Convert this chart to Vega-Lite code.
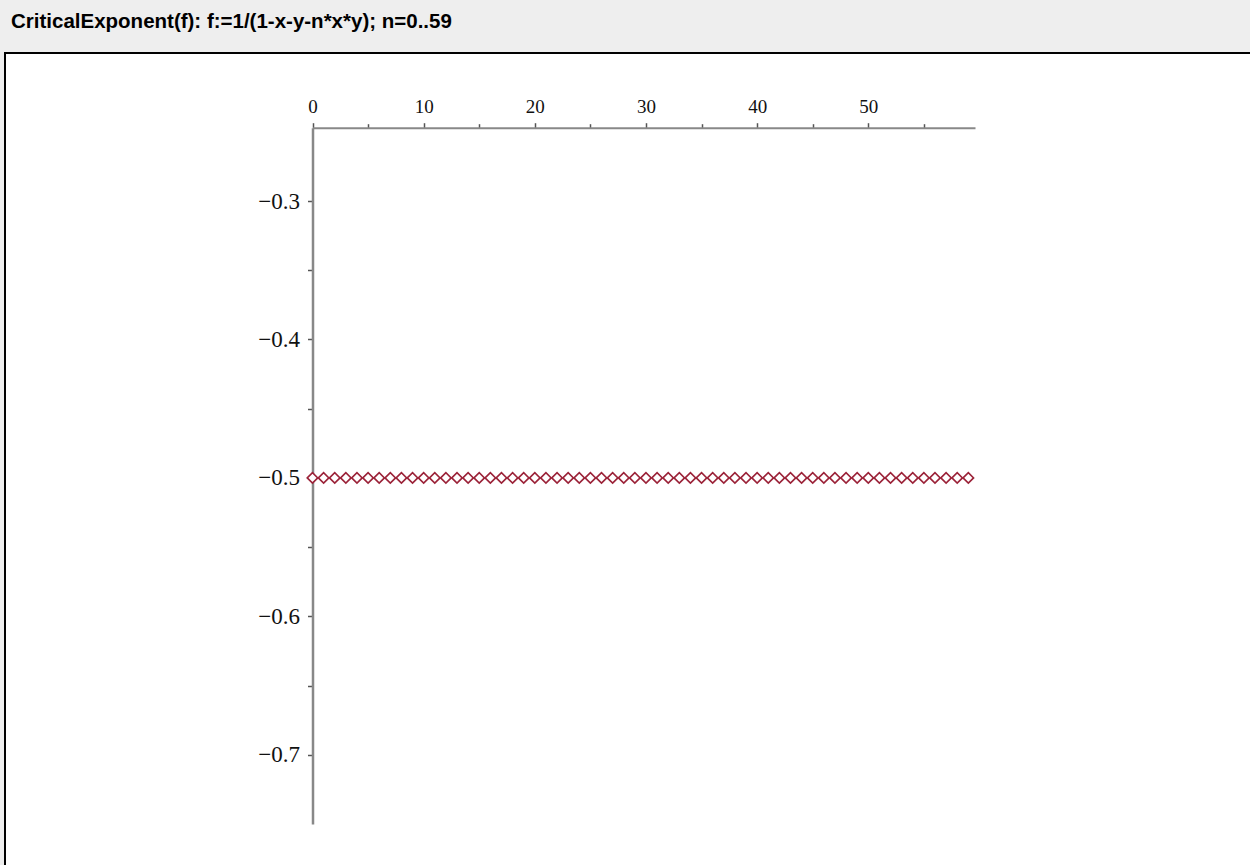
{
  "$schema": "https://vega.github.io/schema/vega-lite/v6.json",
  "autosize": "none",
  "width": 1245,
  "height": 812,
  "padding": {"left": 5, "top": 53, "right": 0, "bottom": 0},
  "background": "#eeeeee",
  "title": {
    "text": "CriticalExponent(f): f:=1/(1-x-y-n*x*y); n=0..59",
    "anchor": "start",
    "frame": "group",
    "orient": "top",
    "font": "Liberation Sans",
    "fontWeight": "bold",
    "fontSize": 20.5,
    "color": "#000000",
    "baseline": "alphabetic",
    "offset": 5,
    "dx": 6
  },
  "config": {
    "view": {"fill": "#ffffff", "stroke": "#000000", "strokeWidth": 2, "strokeDash": [1245, 2057, 812, 1]},
    "axis": {"grid": false}
  },
  "data": {
    "values": [
      {"n": 0, "e": -0.5}, {"n": 1, "e": -0.5}, {"n": 2, "e": -0.5}, {"n": 3, "e": -0.5}, {"n": 4, "e": -0.5},
      {"n": 5, "e": -0.5}, {"n": 6, "e": -0.5}, {"n": 7, "e": -0.5}, {"n": 8, "e": -0.5}, {"n": 9, "e": -0.5},
      {"n": 10, "e": -0.5}, {"n": 11, "e": -0.5}, {"n": 12, "e": -0.5}, {"n": 13, "e": -0.5}, {"n": 14, "e": -0.5},
      {"n": 15, "e": -0.5}, {"n": 16, "e": -0.5}, {"n": 17, "e": -0.5}, {"n": 18, "e": -0.5}, {"n": 19, "e": -0.5},
      {"n": 20, "e": -0.5}, {"n": 21, "e": -0.5}, {"n": 22, "e": -0.5}, {"n": 23, "e": -0.5}, {"n": 24, "e": -0.5},
      {"n": 25, "e": -0.5}, {"n": 26, "e": -0.5}, {"n": 27, "e": -0.5}, {"n": 28, "e": -0.5}, {"n": 29, "e": -0.5},
      {"n": 30, "e": -0.5}, {"n": 31, "e": -0.5}, {"n": 32, "e": -0.5}, {"n": 33, "e": -0.5}, {"n": 34, "e": -0.5},
      {"n": 35, "e": -0.5}, {"n": 36, "e": -0.5}, {"n": 37, "e": -0.5}, {"n": 38, "e": -0.5}, {"n": 39, "e": -0.5},
      {"n": 40, "e": -0.5}, {"n": 41, "e": -0.5}, {"n": 42, "e": -0.5}, {"n": 43, "e": -0.5}, {"n": 44, "e": -0.5},
      {"n": 45, "e": -0.5}, {"n": 46, "e": -0.5}, {"n": 47, "e": -0.5}, {"n": 48, "e": -0.5}, {"n": 49, "e": -0.5},
      {"n": 50, "e": -0.5}, {"n": 51, "e": -0.5}, {"n": 52, "e": -0.5}, {"n": 53, "e": -0.5}, {"n": 54, "e": -0.5},
      {"n": 55, "e": -0.5}, {"n": 56, "e": -0.5}, {"n": 57, "e": -0.5}, {"n": 58, "e": -0.5}, {"n": 59, "e": -0.5}
    ]
  },
  "mark": {"type": "point", "shape": "diamond", "size": 110, "filled": false, "stroke": "#9b2238", "strokeWidth": 1.6, "fill": "#ffffff", "fillOpacity": 1, "opacity": 1, "clip": false},
  "encoding": {
    "x": {
      "field": "n",
      "type": "quantitative",
      "scale": {"domain": [0, 59.6], "range": [307.5, 970], "nice": false, "zero": false},
      "axis": {
        "orient": "top",
        "offset": -74.7,
        "title": null,
        "values": [0, 5, 10, 15, 20, 25, 30, 35, 40, 45, 50, 55],
        "labelExpr": "datum.value % 10 === 0 ? datum.label : ''",
        "format": "d",
        "labelFont": "Liberation Serif",
        "labelFontSize": 19,
        "labelColor": "#111111",
        "labelPadding": 6,
        "tickSize": {"condition": {"test": "datum.value % 10 === 0", "value": 5}, "value": 4},
        "tickColor": "#555555",
        "tickWidth": 1.5,
        "domainColor": "#888888",
        "domainWidth": 2,
        "labelFlush": false,
        "labelOverlap": false
      }
    },
    "y": {
      "field": "e",
      "type": "quantitative",
      "scale": {"domain": [-0.75, -0.247], "range": [771, 74.7], "nice": false, "zero": false},
      "axis": {
        "orient": "left",
        "offset": -307.5,
        "title": null,
        "values": [-0.7, -0.65, -0.6, -0.55, -0.5, -0.45, -0.4, -0.35, -0.3],
        "format": ".1f",
        "labelExpr": "round(datum.value * 100) % 10 === 0 ? datum.label : ''",
        "labelFont": "Liberation Serif",
        "labelFontSize": 23,
        "labelColor": "#111111",
        "labelPadding": 8,
        "tickSize": 5,
        "tickColor": "#555555",
        "tickWidth": 1.5,
        "domainColor": "#888888",
        "domainWidth": 2.5,
        "labelFlush": false,
        "labelOverlap": false
      }
    }
  }
}
